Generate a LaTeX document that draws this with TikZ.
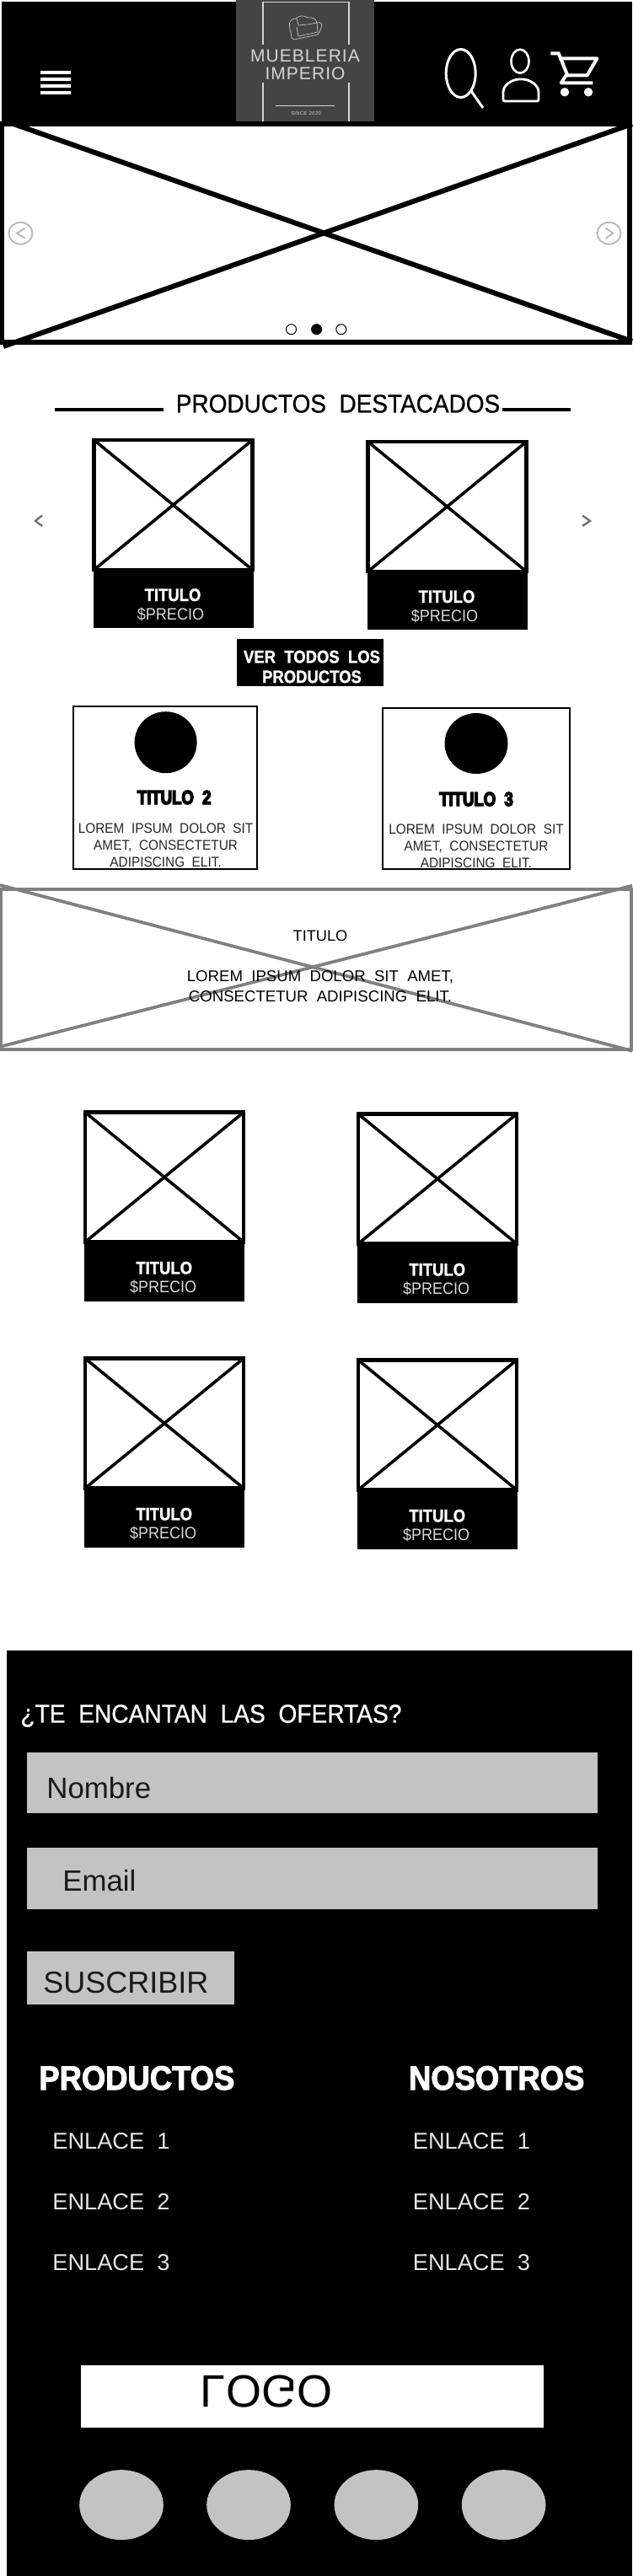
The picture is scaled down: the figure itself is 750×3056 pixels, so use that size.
\documentclass[tikz,border=0pt]{standalone}
\usepackage{fontspec}
\usetikzlibrary{shapes.geometric}
\setmainfont{Liberation Sans}
\newfontfamily\thinfont[FakeStretch=0.92,WordSpace=2]{Liberation Sans}
\newfontfamily\widefont[WordSpace=2]{Liberation Sans}
\newfontfamily\headfont[FakeStretch=0.92,FakeBold=0.7,WordSpace=2]{Liberation Sans}
\newfontfamily\boldfont[UprightFont=* Bold,FakeStretch=0.88,FakeBold=1.2,WordSpace=2]{Liberation Sans}
\newfontfamily\footfont[UprightFont=* Bold,FakeStretch=0.91,FakeBold=2.5,WordSpace=2]{Liberation Sans}
\newfontfamily\heavyfont[UprightFont=* Bold,FakeStretch=0.8,FakeBold=6,WordSpace=2]{Liberation Sans}
\newfontfamily\logofont[LetterSpace=5,WordSpace=1.5]{Liberation Sans}
\definecolor{logogray}{HTML}{444444}
\definecolor{logoline}{HTML}{D4D4D4}
\definecolor{formgray}{HTML}{C3C3C3}
\definecolor{arrowgray}{HTML}{BBBBBB}
\definecolor{bannergray}{HTML}{808080}
\begin{document}
\begin{tikzpicture}[
        x=0.5pt, y=-0.5pt,
        solid_box/.style={rectangle, fill=black, inner sep=0pt, outer sep=0pt},
        form_box/.style={rectangle, fill=formgray, inner sep=0pt, outer sep=0pt},
        product_img/.style={rectangle, draw, line width=2.1pt, fill=white, minimum width=94pt, minimum height=77pt, inner sep=0pt, outer sep=0pt},
        product_cap/.style={rectangle, fill=black, minimum width=95pt, minimum height=34pt, inner sep=0pt, outer sep=0pt},
        cross/.style={line width=1.8pt},
        product_title/.style={anchor=base, text=white, font=\boldfont\fontsize{10.5}{12}\selectfont},
        product_price/.style={anchor=base, text=white!85!black, font=\thinfont\fontsize{9.8}{12}\selectfont},
        card/.style={rectangle, draw, line width=1pt, fill=white, inner sep=0pt, outer sep=0pt},
        card_title/.style={anchor=base, font=\heavyfont\fontsize{11.6}{13}\selectfont},
        card_text/.style={align=center, text=black!85, font=\thinfont\fontsize{8.35}{10}\selectfont},
        link/.style={anchor=base west, inner sep=0pt, text=white!90!black, font=\widefont\fontsize{13.6}{15}\selectfont},
        foot_head/.style={anchor=base west, inner sep=0pt, text=white, font=\footfont\fontsize{20}{22}\selectfont},
        form_text/.style={anchor=base west, inner sep=0pt, text=black!90, font=\widefont\fontsize{17.4}{19}\selectfont},
        social/.style={ellipse, fill=formgray, minimum width=49.8pt, minimum height=41.5pt, inner sep=0pt, outer sep=0pt},
        dot/.style={circle, draw, line width=0.5pt, minimum size=6pt, inner sep=0pt, outer sep=0pt}
    ]
        \useasboundingbox (0,0) rectangle (750,3056);

        % Hero with the big cross
        \node[rectangle, draw, line width=2.8pt, fill=white, minimum width=372.5pt, minimum height=129.5pt, inner sep=0pt, outer sep=0pt] (hero) at (374.5,276.5) {};
        \coordinate (hero_a) at (13,146);
        \coordinate (hero_b) at (750,405);
        \coordinate (hero_c) at (4,411);
        \coordinate (hero_d) at (750,147);
        \draw[line width=3pt] (hero_a) -- (hero_b);
        \draw[line width=3pt] (hero_c) -- (hero_d);
        \node[dot] (dot_a) at (345.5,390.7) {};
        \node[dot, fill=black] (dot_b) at (375.6,390.7) {};
        \node[dot] (dot_c) at (404.8,390.7) {};
        \node[ellipse, draw=arrowgray, line width=1pt, minimum width=14pt, minimum height=13pt, inner sep=0pt] (prev_hero) at (24.4,276.7) {};
        \node[ellipse, draw=arrowgray, line width=1pt, minimum width=14pt, minimum height=13pt, inner sep=0pt] (next_hero) at (722.5,276.7) {};
        \draw[arrowgray, line width=1pt] (29.7,270.7) -- (20,276.7) -- (29.7,282.7);
        \draw[arrowgray, line width=1pt] (718.7,270.7) -- (727.3,276.7) -- (718.7,282.7);

        % Header bar
        \node[solid_box, minimum width=374pt, minimum height=74pt] (header) at (376,76) {};
        \fill[white] (48,84) rectangle (84,88);
        \fill[white] (48,92) rectangle (84,96);
        \fill[white] (48,100) rectangle (84,104);
        \fill[white] (48,108) rectangle (84,112);

        % Logo
        \node[rectangle, fill=logogray, minimum width=82pt, minimum height=72pt, inner sep=0pt, outer sep=0pt] (logo) at (362,72) {};
        \draw[logoline, line width=0.7pt] (312,53) -- (312,2.5) -- (414,2.5) -- (414,53);
        \draw[logoline, line width=0.7pt] (312,144) -- (312,98);
        \draw[logoline, line width=0.7pt] (414,144) -- (414,98);
        \draw[logoline, line width=0.7pt] (327,125.7) -- (397,125.7);
        \draw[logoline, line width=0.3pt] (345,38) .. controls (341,26) and (345,22) .. (351,22) .. controls (355,18) and (361,18) .. (365,21) .. controls (370,20) and (375,22) .. (376,27) .. controls (381,25) and (383,29) .. (381,33) .. controls (379,38) and (378,40) .. (377,41) -- (349,47) -- (346,45) -- cycle;
        \draw[logoline, line width=0.3pt] (352,32) -- (354,43) -- (377,38) -- (376,27);
        \draw[logoline, line width=0.3pt] (352,22) -- (354,30) -- (365,29) -- (376,27);
        \node[anchor=base, text=logoline, font=\logofont\fontsize{10.5}{12}\selectfont] (logo_a) at (362,74) {MUEBLERIA};
        \node[anchor=base, text=logoline, font=\logofont\fontsize{10.5}{12}\selectfont] (logo_b) at (362,95) {IMPERIO};
        \node[anchor=base, text=logoline, font=\logofont\fontsize{2.9}{4}\selectfont] (logo_c) at (363,137) {SINCE 2020};

        % Header icons
        \draw[white, line width=1.5pt] (546.7,87) ellipse [x radius=17.5, y radius=28.5];
        \draw[white, line width=1.5pt] (559,108) -- (573,128);
        \draw[white, line width=1.3pt] (617,72.7) ellipse [x radius=10.5, y radius=14];
        \draw[white, line width=1.4pt, rounded corners=1pt] (597,120) -- (597,107) .. controls (601,98) and (610,94) .. (618,94) .. controls (626,94) and (635,98) .. (639,107) -- (639,120) -- cycle;
        \draw[white, line width=2pt] (653.3,63.3) -- (662.7,63.3) -- (673.3,89.3);
        \draw[white, line width=2pt, line join=round] (663.3,69.3) -- (708.3,69.3) -- (696.7,89.3) -- (671.7,89.3) -- (665.7,98.3) -- (703.3,98.3);
        \fill[white] (670,109.3) circle [radius=5.2];
        \fill[white] (698,109.3) circle [radius=5.2];

        % Featured products
        \node[anchor=base, font=\headfont\fontsize{15.2}{17}\selectfont] (featured) at (401,489.4) {PRODUCTOS DESTACADOS};
        \draw[line width=2pt] (65,486) -- (194,486);
        \draw[line width=2pt] (596,486) -- (677,486);
        \draw[black!55, line width=1.2pt] (50,611.5) -- (42,618) -- (50,624);
        \draw[black!55, line width=1.2pt] (691,611.5) -- (700,618) -- (691,624);

        \node[product_img] (prod1) at (205.5,599) {};
        \draw[cross] (prod1.north west) -- (prod1.south east);
        \draw[cross] (prod1.south west) -- (prod1.north east);
        \node[product_cap] (prod1_cap) at (205.5,711) {};
        \node[product_title] (prod1_title) at (205,713) {TITULO};
        \node[product_price] (prod1_price) at (202.5,735) {\$PRECIO};

        \node[product_img] (prod2) at (530.5,601) {};
        \draw[cross] (prod2.north west) -- (prod2.south east);
        \draw[cross] (prod2.south west) -- (prod2.north east);
        \node[product_cap] (prod2_cap) at (530.5,713) {};
        \node[product_title] (prod2_title) at (530,715) {TITULO};
        \node[product_price] (prod2_price) at (527.5,737) {\$PRECIO};

        \node[solid_box, minimum width=87.2pt, minimum height=28.1pt] (all_btn) at (367.8,785.9) {};
        \node[align=center, text=white, font=\boldfont\fontsize{10.5}{11.85}\selectfont] (all_txt) at (370,791) {VER TODOS LOS\\PRODUCTOS};

        % Cards
        \node[card, minimum width=109pt, minimum height=96.5pt] (card2) at (196.2,934.8) {};
        \node[ellipse, fill=black, minimum width=37pt, minimum height=36.5pt, inner sep=0pt] (card2_icon) at (196.6,880.7) {};
        \node[card_title] (card2_title) at (206.7,954) {TITULO 2};
        \node[card_text] (card2_text) at (196.6,1002.5) {LOREM IPSUM DOLOR SIT\\AMET, CONSECTETUR\\ADIPISCING ELIT.};

        \node[card, minimum width=111.2pt, minimum height=95.5pt] (card3) at (565.2,935.7) {};
        \node[ellipse, fill=black, minimum width=37.5pt, minimum height=36pt, inner sep=0pt] (card3_icon) at (565,882) {};
        \node[card_title] (card3_title) at (565,956) {TITULO 3};
        \node[card_text] (card3_text) at (565,1003.5) {LOREM IPSUM DOLOR SIT\\AMET, CONSECTETUR\\ADIPISCING ELIT.};

        % Banner
        \node[rectangle, draw=bannergray, line width=1.8pt, minimum width=374pt, minimum height=95pt, inner sep=0pt, outer sep=0pt] (banner) at (375,1150) {};
        \coordinate (banner_a) at (0,1050);
        \coordinate (banner_b) at (750,1246.7);
        \coordinate (banner_c) at (0,1241.7);
        \coordinate (banner_d) at (750,1050.7);
        \draw[bannergray, line width=1.9pt] (banner_a) -- (banner_b);
        \draw[bannergray, line width=1.9pt] (banner_c) -- (banner_d);
        \node[anchor=base, font=\widefont\fontsize{9.1}{12}\selectfont] (banner_title) at (380,1116) {TITULO};
        \node[align=center, font=\widefont\fontsize{9.3}{12}\selectfont] (banner_text) at (380,1170) {LOREM IPSUM DOLOR SIT AMET,\\CONSECTETUR ADIPISCING ELIT.};

        % Product grid
        \node[product_img] (prod3) at (195,1396.5) {};
        \draw[cross] (prod3.north west) -- (prod3.south east);
        \draw[cross] (prod3.south west) -- (prod3.north east);
        \node[product_cap] (prod3_cap) at (195,1510) {};
        \node[product_title] (prod3_title) at (194.7,1511.4) {TITULO};
        \node[product_price] (prod3_price) at (193.6,1533) {\$PRECIO};

        \node[product_img] (prod4) at (519,1398.5) {};
        \draw[cross] (prod4.north west) -- (prod4.south east);
        \draw[cross] (prod4.south west) -- (prod4.north east);
        \node[product_cap] (prod4_cap) at (519,1512) {};
        \node[product_title] (prod4_title) at (518.7,1513.4) {TITULO};
        \node[product_price] (prod4_price) at (517.6,1535) {\$PRECIO};

        \node[product_img] (prod5) at (195,1688.5) {};
        \draw[cross] (prod5.north west) -- (prod5.south east);
        \draw[cross] (prod5.south west) -- (prod5.north east);
        \node[product_cap] (prod5_cap) at (195,1802) {};
        \node[product_title] (prod5_title) at (194.7,1803.4) {TITULO};
        \node[product_price] (prod5_price) at (193.6,1825) {\$PRECIO};

        \node[product_img] (prod6) at (519,1690.5) {};
        \draw[cross] (prod6.north west) -- (prod6.south east);
        \draw[cross] (prod6.south west) -- (prod6.north east);
        \node[product_cap] (prod6_cap) at (519,1804) {};
        \node[product_title] (prod6_title) at (518.7,1805.4) {TITULO};
        \node[product_price] (prod6_price) at (517.6,1827) {\$PRECIO};

        % Footer
        \node[solid_box, minimum width=371pt, minimum height=549pt] (footer) at (379,2507) {};
        \node[anchor=base west, inner sep=0pt, text=white, font=\headfont\fontsize{15.3}{17}\selectfont] (offers) at (24,2043.6) {¿TE ENCANTAN LAS OFERTAS?};
        \node[form_box, minimum width=338.3pt, minimum height=35.85pt] (name_box) at (370.3,2114.9) {};
        \node[form_text] (name_txt) at (55,2133) {Nombre};
        \node[form_box, minimum width=338.3pt, minimum height=36.5pt] (mail_box) at (370.3,2228.5) {};
        \node[form_text] (mail_txt) at (74,2243.6) {Email};
        \node[form_box, minimum width=123pt, minimum height=31.25pt] (send_box) at (155,2346.3) {};
        \node[form_text, font=\widefont\fontsize{18}{20}\selectfont] (send_txt) at (51,2364) {SUSCRIBIR};

        \node[foot_head] (head_a) at (46,2479) {PRODUCTOS};
        \node[foot_head] (head_b) at (484.7,2479) {NOSOTROS};
        \node[link] (link_a1) at (62,2549.6) {ENLACE 1};
        \node[link] (link_a2) at (62,2621.6) {ENLACE 2};
        \node[link] (link_a3) at (62,2693.6) {ENLACE 3};
        \node[link] (link_b1) at (489.5,2549.6) {ENLACE 1};
        \node[link] (link_b2) at (489.5,2621.6) {ENLACE 2};
        \node[link] (link_b3) at (489.5,2693.6) {ENLACE 3};

        \node[rectangle, fill=white, minimum width=274.75pt, minimum height=37pt, inner sep=0pt, outer sep=0pt] (foot_logo) at (370.7,2843) {};
        \node[yscale=-1, transform shape, font=\widefont\fontsize{27}{29}\selectfont] (foot_logo_txt) at (316,2837.5) {LOGO};

        \node[social] (social_a) at (144,2971.6) {};
        \node[social] (social_b) at (295,2971.6) {};
        \node[social] (social_c) at (446.4,2971.6) {};
        \node[social] (social_d) at (597.6,2971.6) {};
    \end{tikzpicture}
\end{document}
